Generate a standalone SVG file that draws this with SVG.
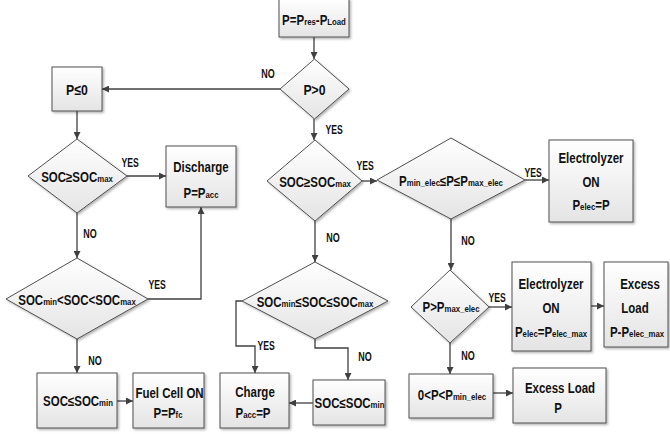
<svg xmlns="http://www.w3.org/2000/svg" width="670" height="434" viewBox="0 0 670 434">
<defs>
<linearGradient id="g" x1="0" y1="0" x2="0" y2="1">
<stop offset="0" stop-color="#ffffff"/>
<stop offset="1" stop-color="#e4e4e4"/>
</linearGradient>
<filter id="sh" x="-10%" y="-10%" width="130%" height="130%">
<feDropShadow dx="1.5" dy="1.5" stdDeviation="0.8" flood-color="#000" flood-opacity="0.3"/>
</filter>
<marker id="ar" viewBox="0 0 10 10" refX="10" refY="5" markerWidth="7" markerHeight="7" markerUnits="userSpaceOnUse" orient="auto">
<path d="M0,0 L10,5 L0,10 z" fill="#404040"/>
</marker>
<style>
.n{fill:url(#g);stroke:#505050;stroke-width:1;filter:url(#sh)}
.t{font-family:"Liberation Sans",Arial,sans-serif;font-weight:bold;font-size:14px;fill:#111;text-anchor:middle}
.b{font-size:15px}
.s{font-size:9.5px}
.l{font-family:"Liberation Sans",Arial,sans-serif;font-weight:bold;font-size:12px;fill:#111;text-anchor:middle}
.c{fill:none;stroke:#404040;stroke-width:1.3;marker-end:url(#ar)}
</style>
</defs>
<rect width="670" height="434" fill="#fff"/>

<g id="connectors">
<path class="c" d="M314,37 V59"/>
<path class="c" d="M280,89 H102"/>
<path class="c" d="M77,111 V139"/>
<path class="c" d="M314,119 V140"/>
<path class="c" d="M127,176 H166"/>
<path class="c" d="M77,213 V258"/>
<path class="c" d="M148,299 H201 V207"/>
<path class="c" d="M77,339 V373"/>
<path class="c" d="M117,401 H133"/>
<path class="c" d="M315,221 V262"/>
<path class="c" d="M362,181 H377"/>
<path class="c" d="M525,180 H549"/>
<path class="c" d="M451,219 V270"/>
<path class="c" d="M489,307 H512"/>
<path class="c" d="M591,306 H604"/>
<path class="c" d="M450,343 V374"/>
<path class="c" d="M493,393 H513"/>
<path class="c" d="M242,301 H236 V346 H255 V373"/>
<path class="c" d="M315,339 V348 H348 V380"/>
<path class="c" d="M313,403 H289"/>
<text class="l" transform="translate(268,78) scale(.75,1)">NO</text>
<text class="l" transform="translate(334,134) scale(.72,1)">YES</text>
<text class="l" transform="translate(130,167) scale(.72,1)">YES</text>
<text class="l" transform="translate(90,238) scale(.75,1)">NO</text>
<text class="l" transform="translate(157,289) scale(.72,1)">YES</text>
<text class="l" transform="translate(95,365) scale(.75,1)">NO</text>
<text class="l" transform="translate(333,242) scale(.75,1)">NO</text>
<text class="l" transform="translate(365,170) scale(.72,1)">YES</text>
<text class="l" transform="translate(533,177) scale(.72,1)">YES</text>
<text class="l" transform="translate(468,245) scale(.75,1)">NO</text>
<text class="l" transform="translate(497,302) scale(.72,1)">YES</text>
<text class="l" transform="translate(468,360) scale(.75,1)">NO</text>
<text class="l" transform="translate(266,350) scale(.72,1)">YES</text>
<text class="l" transform="translate(365,361) scale(.75,1)">NO</text>
</g>

<g id="n-start"><rect class="n" x="279" y="-1" width="70" height="38"/>
<text class="t" transform="translate(314,25) scale(.82,1)">P=P<tspan class="s">res</tspan>-P<tspan class="s">Load</tspan></text></g>

<g id="n-pgt0"><polygon class="n" points="314.5,59 349,89 314.5,119 280,89"/>
<text class="t b" transform="translate(314.5,95) scale(.82,1)">P&gt;0</text></g>

<g id="n-ple0"><rect class="n" x="52" y="67" width="50" height="44"/>
<text class="t b" transform="translate(77,95) scale(.82,1)">P≤0</text></g>

<g id="n-lsocmax"><polygon class="n" points="77,139 127,176 77,213 28,176"/>
<text class="t" transform="translate(77,182) scale(.82,1)">SOC≥SOC<tspan class="s">max</tspan></text></g>

<g id="n-discharge"><rect class="n" x="166" y="146" width="70" height="61"/>
<text class="t" transform="translate(201,172) scale(.82,1)">Discharge</text>
<text class="t" transform="translate(201,198) scale(.82,1)">P=P<tspan class="s">acc</tspan></text></g>

<g id="n-lsocmid"><polygon class="n" points="77,258 148,299 77,339 6,299"/>
<text class="t" transform="translate(77,305) scale(.82,1)">SOC<tspan class="s">min</tspan>&lt;SOC&lt;SOC<tspan class="s">max</tspan></text></g>

<g id="n-lsocmin"><rect class="n" x="37" y="373" width="80" height="55"/>
<text class="t" transform="translate(78,406) scale(.82,1)">SOC≤SOC<tspan class="s">min</tspan></text></g>

<g id="n-fuelcell"><rect class="n" x="133" y="373" width="71" height="55"/>
<text class="t" transform="translate(169.5,398) scale(.82,1)">Fuel Cell ON</text>
<text class="t" transform="translate(168,418) scale(.82,1)">P=P<tspan class="s">fc</tspan></text></g>

<g id="n-msocmax"><polygon class="n" points="315,140 362,181 315,221 267,181"/>
<text class="t" transform="translate(315,187) scale(.82,1)">SOC≥SOC<tspan class="s">max</tspan></text></g>

<g id="n-pelecrange"><polygon class="n" points="451,138 525,180 451,219 377,180"/>
<text class="t" transform="translate(451,186) scale(.82,1)">P<tspan class="s">min_elec</tspan>≤P≤P<tspan class="s">max_elec</tspan></text></g>

<g id="n-elec1"><rect class="n" x="549" y="140" width="84" height="82"/>
<text class="t" transform="translate(591,163) scale(.82,1)">Electrolyzer</text>
<text class="t" transform="translate(591,187) scale(.82,1)">ON</text>
<text class="t" transform="translate(591,210) scale(.82,1)">P<tspan class="s">elec</tspan>=P</text></g>

<g id="n-msocmid"><polygon class="n" points="315,262 388,301 315,339 242,301"/>
<text class="t" transform="translate(315,307) scale(.82,1)">SOC<tspan class="s">min</tspan>≤SOC≤SOC<tspan class="s">max</tspan></text></g>

<g id="n-charge"><rect class="n" x="220" y="373" width="69" height="55"/>
<text class="t" transform="translate(255,397) scale(.82,1)">Charge</text>
<text class="t" transform="translate(253,418) scale(.82,1)">P<tspan class="s">acc</tspan>=P</text></g>

<g id="n-msocmin"><rect class="n" x="313" y="380" width="72" height="45"/>
<text class="t" transform="translate(349.5,408) scale(.82,1)">SOC≤SOC<tspan class="s">min</tspan></text></g>

<g id="n-pgtmax"><polygon class="n" points="450,270 489,307 450,343 411,307"/>
<text class="t" transform="translate(451,312) scale(.82,1)">P&gt;P<tspan class="s">max_elec</tspan></text></g>

<g id="n-elec2"><rect class="n" x="512" y="262" width="79" height="89"/>
<text class="t" transform="translate(551,289) scale(.82,1)">Electrolyzer</text>
<text class="t" transform="translate(551,313) scale(.82,1)">ON</text>
<text class="t" transform="translate(551,337) scale(.82,1)">P<tspan class="s">elec</tspan>=P<tspan class="s">elec_max</tspan></text></g>

<g id="n-excess1"><rect class="n" x="604" y="262" width="64" height="85"/>
<text class="t" transform="translate(640,289) scale(.82,1)">Excess</text>
<text class="t" transform="translate(635,313) scale(.82,1)">Load</text>
<text class="t" transform="translate(637,337) scale(.82,1)">P-P<tspan class="s">elec_max</tspan></text></g>

<g id="n-pmin"><rect class="n" x="409" y="374" width="84" height="44"/>
<text class="t" transform="translate(452,400) scale(.82,1)">0&lt;P&lt;P<tspan class="s">min_elec</tspan></text></g>

<g id="n-excess2"><rect class="n" x="513" y="368" width="93" height="55"/>
<text class="t" transform="translate(560,393) scale(.82,1)">Excess Load</text>
<text class="t" transform="translate(558,413) scale(.82,1)">P</text></g>
</svg>
